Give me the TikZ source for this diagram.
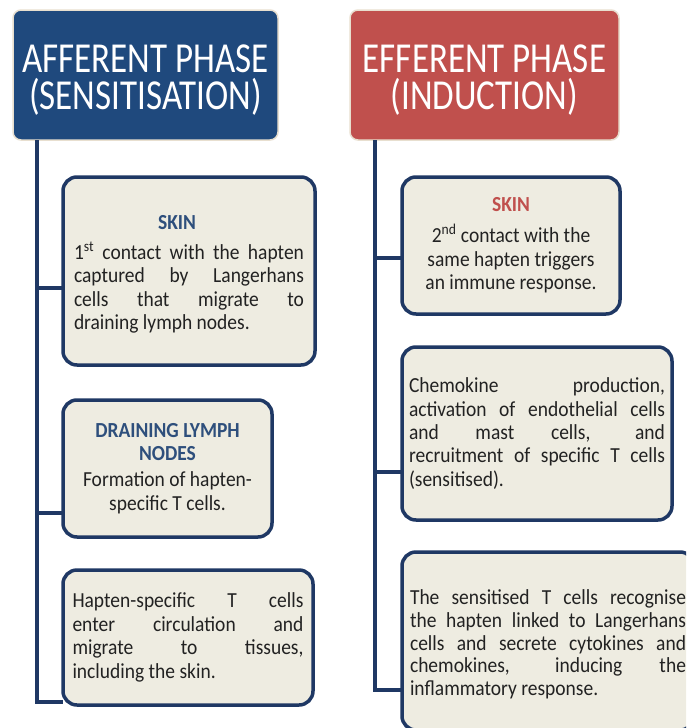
\documentclass[tikz,border=0pt]{standalone}
\usepackage{fontspec}
\setmainfont{Carlito}
\usepackage{graphicx}
\definecolor{hblue}{HTML}{1F497D}
\definecolor{hred}{HTML}{C0504D}
\definecolor{bfill}{HTML}{EEECE1}
\definecolor{bline}{HTML}{1F3864}
\definecolor{tblue}{HTML}{2E4F7C}
\definecolor{tred}{HTML}{C0504D}
\definecolor{glow}{HTML}{E8DFCF}
\definecolor{textc}{HTML}{222222}
\newcommand{\jl}[1]{\makebox[\linewidth][s]{#1}\\}
\newcommand{\bodytext}[2]{\scalebox{1}[1.1]{\parbox{#1}{\fontsize{19.5}{21.3}\selectfont #2}}}
\newcommand{\headtext}[1]{\scalebox{1}[1.22]{\parbox{265pt}{\vspace*{8pt}\centering\fontsize{35}{30.5}\selectfont #1}}}
\tikzset{
  header/.style={rectangle, rounded corners=8pt, draw=glow, line width=1.5pt, inner sep=0pt, outer sep=0pt, text=white},
  infobox/.style={rectangle, rounded corners=14pt, draw=bline, line width=3.5pt, fill=bfill, inner sep=0pt, outer sep=0pt, text=textc},
  conn/.style={draw=bline, line width=4pt}
}
\begin{document}
\begin{tikzpicture}[x=1pt,y=1pt]
\clip (0,0) rectangle (686,-728);
\fill[white] (0,0) rectangle (686,-728);
% headers
\node[header, fill=hblue, minimum width=265pt, minimum height=130pt] (hA) at (145.5,-75) {\headtext{AFFERENT PHASE\\(SENSITISATION)}};
\node[header, fill=hred, minimum width=269pt, minimum height=130pt] (hE) at (484.5,-75) {\headtext{EFFERENT PHASE\\(INDUCTION)}};
% left boxes
\node[infobox, minimum width=252pt, minimum height=188pt] (lb1) at (189,-271) {\bodytext{230pt}{\vspace*{6pt}\centering\hspace*{-24pt}{\color{tblue}\bfseries SKIN}\par\vspace{6pt}\raggedright\jl{1\textsuperscript{st} contact with the hapten}\jl{captured by Langerhans}\jl{cells that migrate to}draining lymph nodes.}};
\node[infobox, minimum width=209pt, minimum height=137pt] (lb2) at (167.5,-468.5) {\bodytext{205pt}{\centering\leavevmode{\color{tblue}\bfseries DRAINING LYMPH\\NODES}\par\vspace{2pt}Formation of hapten-\\specific T cells.}};
\node[infobox, minimum width=250pt, minimum height=135pt] (lb3) at (188,-637.5) {\bodytext{231pt}{\raggedright\jl{Hapten-specific T cells}\jl{enter circulation and}\jl{migrate to tissues,}including the skin.}};
% right boxes
\node[infobox, minimum width=218pt, minimum height=137pt] (rb1) at (511,-245.5) {\bodytext{215pt}{\centering\leavevmode{\color{tred}\bfseries SKIN}\par\vspace{7pt}2\textsuperscript{nd} contact with the\\same hapten triggers\\an immune response.}};
\node[infobox, minimum width=270pt, minimum height=173pt] (rb2) at (537,-433.5) {\bodytext{256pt}{\raggedright\jl{Chemokine production,}\jl{activation of endothelial cells}\jl{and mast cells, and}\jl{recruitment of specific T cells}(sensitised).}};
\node[infobox, minimum width=292pt, minimum height=178pt] (rb3) at (548,-641) {\bodytext{276pt}{\vspace*{6pt}\fontsize{19.5}{20.5}\selectfont\raggedright\jl{The sensitised T cells recognise}\jl{the hapten linked to Langerhans}\jl{cells and secrete cytokines and}\jl{chemokines, inducing the}inflammatory response.}};
% connectors
\coordinate (lA) at (37,-702);
\coordinate (lA1) at (37,-288);
\coordinate (lA2) at (37,-513);
\coordinate (rE) at (375,-690);
\coordinate (rE1) at (375,-258);
\coordinate (rE2) at (375,-472);
\draw[conn] (hA.south -| lA) -- (lA) -- (lA -| lb3.west);
\draw[conn] (lA1) -- (lA1 -| lb1.west);
\draw[conn] (lA2) -- (lA2 -| lb2.west);
\draw[conn] (hE.south -| rE) -- (rE) -- (rE -| rb3.west);
\draw[conn] (rE1) -- (rE1 -| rb1.west);
\draw[conn] (rE2) -- (rE2 -| rb2.west);
\end{tikzpicture}
\end{document}
